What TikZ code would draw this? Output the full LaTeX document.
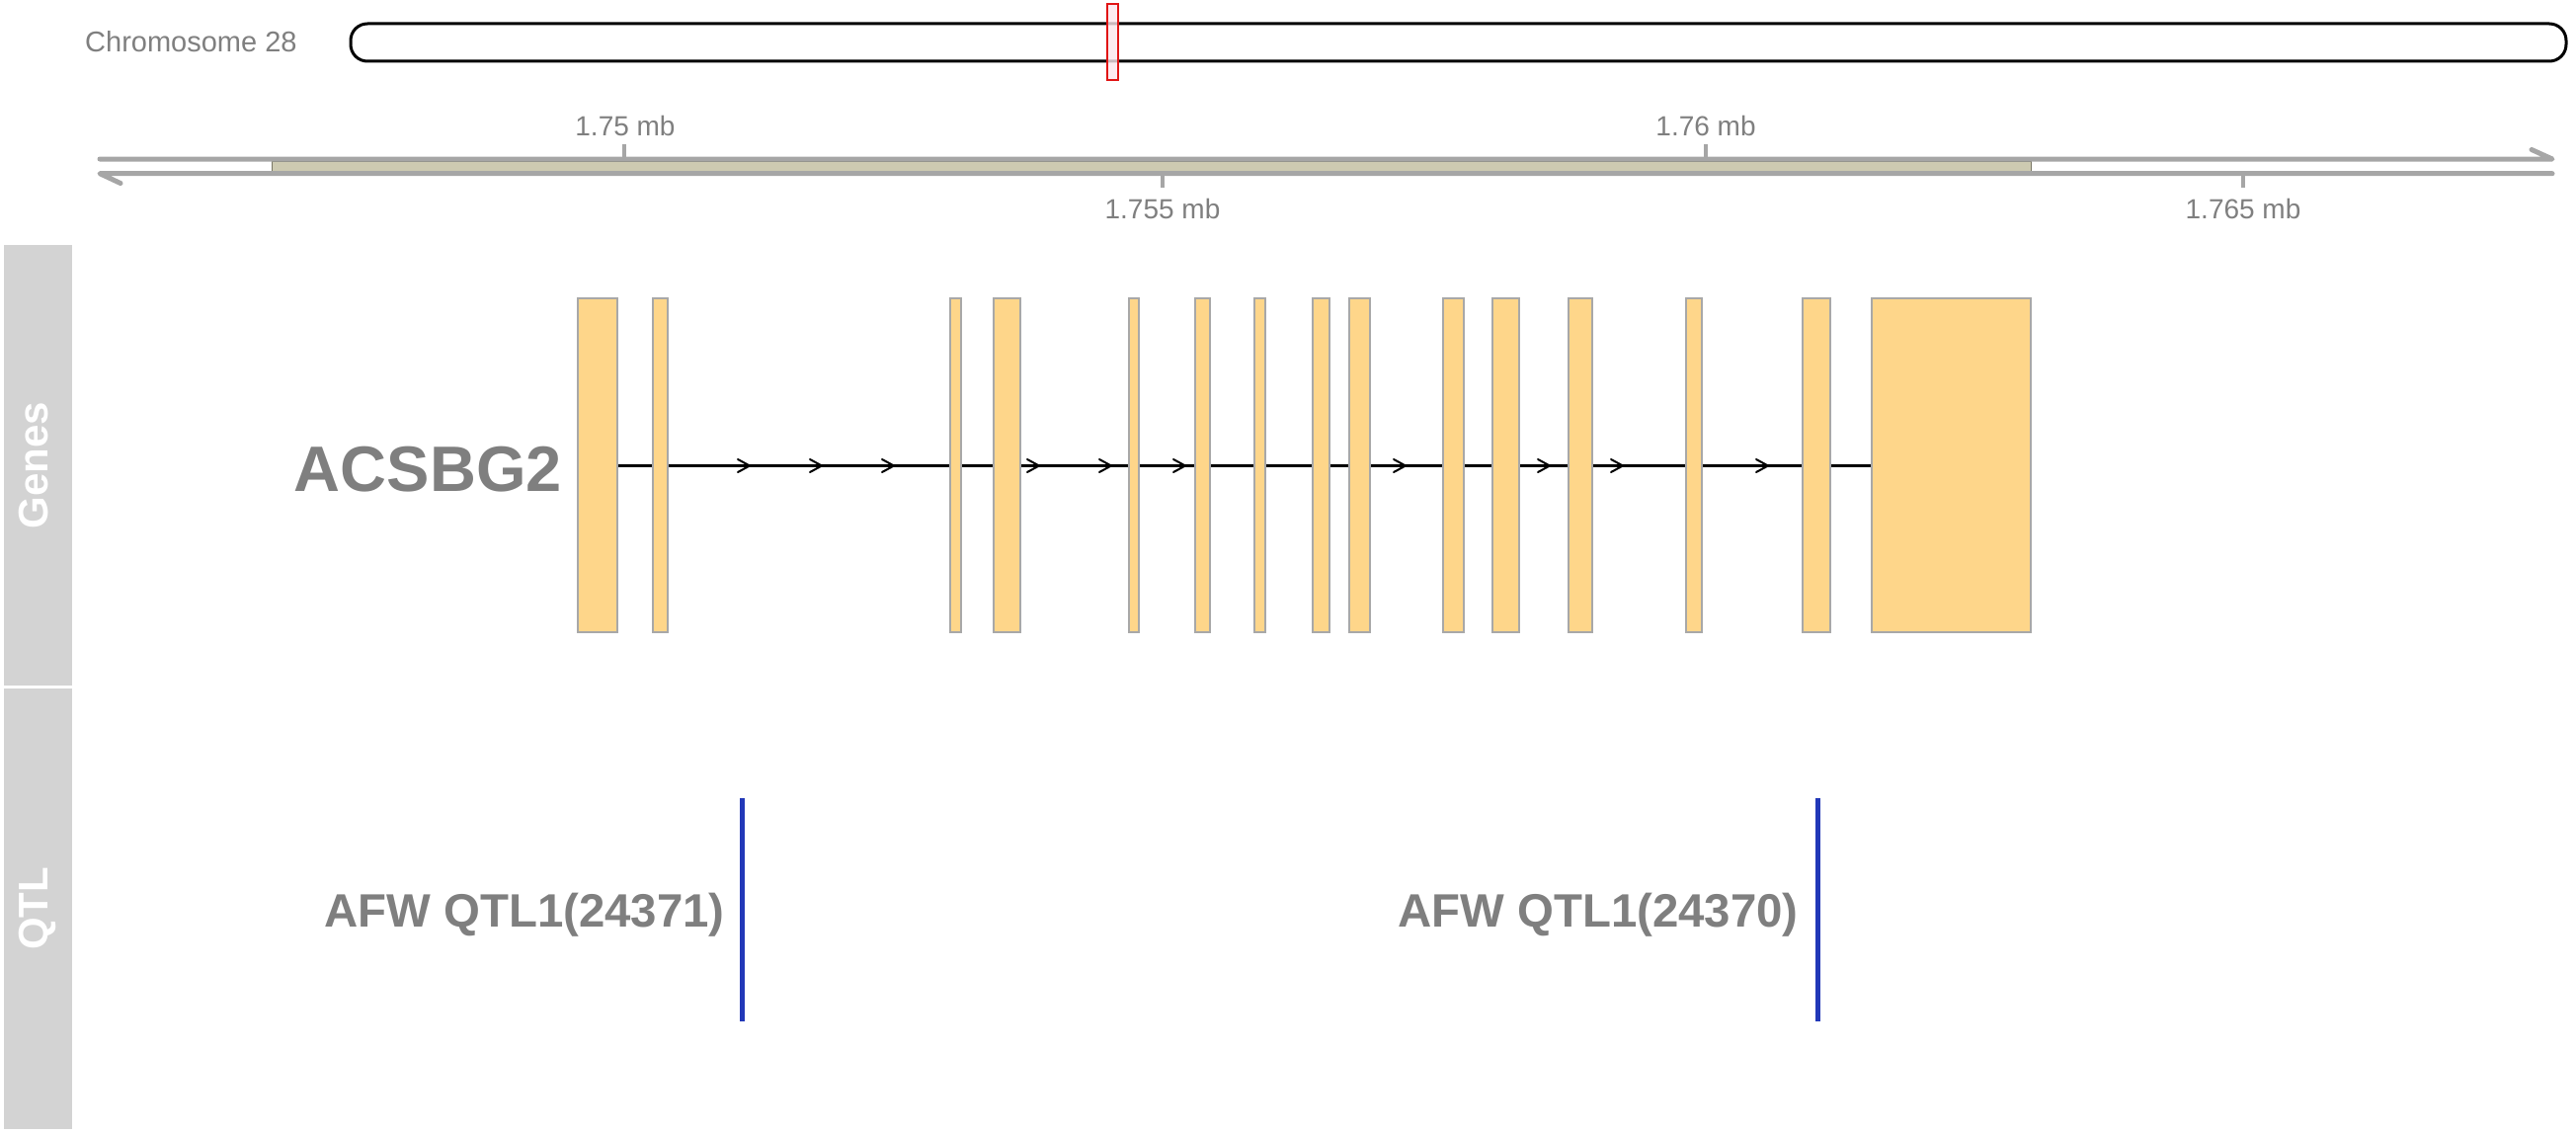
\documentclass[tikz,border=0pt]{standalone}
\usepackage{fontspec}
\setmainfont{Liberation Sans}
\definecolor{txtgrey}{RGB}{127,127,127}
\definecolor{axgrey}{RGB}{166,166,166}
\definecolor{beige}{RGB}{205,202,177}
\definecolor{beigeedge}{RGB}{120,118,100}
\definecolor{exonfill}{RGB}{254,214,138}
\definecolor{exonedge}{RGB}{168,168,168}
\definecolor{strip}{RGB}{211,211,211}
\definecolor{qtlblue}{RGB}{34,56,184}
\definecolor{redmark}{RGB}{225,20,20}
\definecolor{pinkmark}{RGB}{252,230,236}
\tikzset{
  axlbl/.style={inner sep=0pt, anchor=base, text=txtgrey, font=\fontsize{28}{32}\selectfont},
  axline/.style={draw=axgrey, line width=5pt, line cap=round, line join=round},
  axtick/.style={draw=axgrey, line width=4pt},
  exonbox/.style={fill=exonfill, draw=exonedge, line width=2pt},
  chev/.style={draw=black, line width=2pt, line cap=round, line join=miter},
  stripbox/.style={fill=strip, draw=none},
  striplbl/.style={inner sep=0pt, anchor=base, rotate=90, text=white, font=\fontsize{42}{46}\selectfont\bfseries},
  qtlline/.style={draw=qtlblue, line width=5pt},
  biglbl/.style={inner sep=0pt, anchor=base east, text=txtgrey},
}
\begin{document}
\begin{tikzpicture}[x=1pt,y=-1pt]
\useasboundingbox (0,0) rectangle (2608,1148);
% chromosome ideogram
\node[inner sep=0pt, anchor=base west, text=txtgrey, font=\fontsize{29}{33}\selectfont] (chrlbl) at (86,53) {Chromosome 28};
\draw[black, line width=3pt, fill=white, rounded corners=17pt] (355,24) rectangle (2598,62);
\draw[redmark, line width=2pt, fill=pinkmark, fill opacity=0.8, draw opacity=1] (1121,4) rectangle (1132,81);
% axis
\draw[fill=beige, draw=beigeedge, line width=0.8pt] (275,163.5) rectangle (2056,173.5);
\draw[axline] (101,161) -- (2584,161) -- (2563,151.5);
\draw[axline] (2584,175.7) -- (101,175.7) -- (122,185.5);
\draw[axtick] (632,146) -- (632,159);
\draw[axtick] (1727,146) -- (1727,159);
\draw[axtick] (1177,178) -- (1177,190);
\draw[axtick] (2271,178) -- (2271,190);
\node[axlbl] (t1) at (633,137) {1.75 mb};
\node[axlbl] (t2) at (1727,137) {1.76 mb};
\node[axlbl] (t3) at (1177,221) {1.755 mb};
\node[axlbl] (t4) at (2271,221) {1.765 mb};
% side strips
\fill[strip] (4,248) rectangle (73,694);
\fill[strip] (4,697) rectangle (73,1143);
\node[striplbl] (genes) at (48,471) {Genes};
\node[striplbl] (qtl) at (48,920) {QTL};
% gene
\draw[black, line width=3pt] (624,471.5) -- (1895,471.5);
\foreach \c in {753,826,899,1046,1119,1194,1417,1563,1637,1784}{
  \draw[chev] (\c-6,465) -- (\c+6,471.5) -- (\c-6,478);
}
\foreach \a/\b in {585/625,661/676,962/973,1006/1033,1143/1153,1210/1225,1270/1281,1329/1346,1366/1387,1461/1482,1511/1538,1588/1612,1707/1723,1825/1853,1895/2056}{
  \draw[exonbox] (\a,302) rectangle (\b,640);
}
\node[biglbl, font=\fontsize{65}{70}\selectfont\bfseries] (gene) at (569,497) {ACSBG2};
% QTL
\draw[qtlline] (751,808) -- (751,1034);
\draw[qtlline] (1840,808) -- (1840,1034);
\node[biglbl, font=\fontsize{47.4}{52}\selectfont\bfseries] (q1) at (734,938) {AFW QTL1(24371)};
\node[biglbl, font=\fontsize{47.4}{52}\selectfont\bfseries] (q2) at (1821,938) {AFW QTL1(24370)};
\end{tikzpicture}
\end{document}
